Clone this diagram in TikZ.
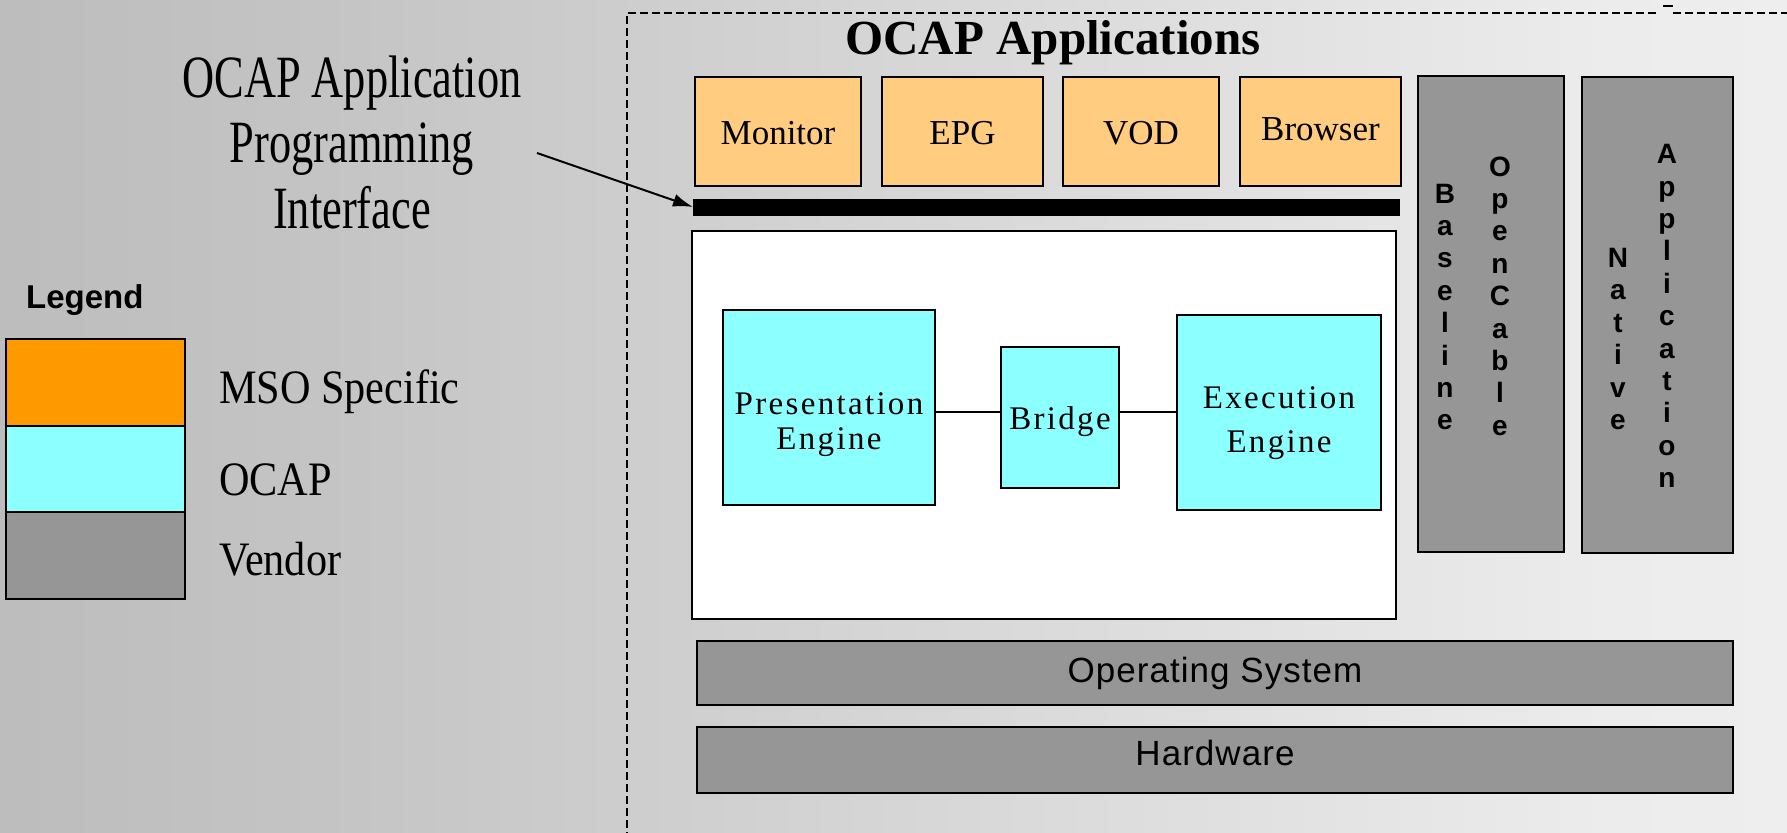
\documentclass[tikz,border=0pt]{standalone}
\usepackage{fontspec}
\setmainfont{Liberation Serif}
\setsansfont{Liberation Sans}
\newfontfamily\annofont[FakeStretch=0.74]{Liberation Serif}
\newfontfamily\legfont[FakeStretch=0.88]{Liberation Serif}
\newfontfamily\engfont[LetterSpace=7]{Liberation Serif}
\newfontfamily\layfont[LetterSpace=3]{Liberation Sans}
\usetikzlibrary{arrows.meta}
\definecolor{bgA}{RGB}{168,168,168}
\definecolor{bgB}{RGB}{196,196,196}
\definecolor{bgC}{RGB}{236,236,236}
\definecolor{bgD}{RGB}{248,248,248}
\definecolor{msolight}{RGB}{255,204,128}
\definecolor{msoorange}{RGB}{255,153,0}
\definecolor{ocapcyan}{RGB}{140,255,255}
\definecolor{vendorgray}{RGB}{150,150,150}
\pgfdeclarehorizontalshading{bgshade}{100bp}{color(0bp)=(bgA); color(34bp)=(bgB); color(70bp)=(bgC); color(100bp)=(bgD)}
\newcommand{\lowered}[2]{\raisebox{-#1}[\height][\depth]{\begin{tabular}{@{}c@{}}#2\end{tabular}}}
\begin{document}
\begin{tikzpicture}[x=1pt,y=-1pt,
  box/.style={draw=black,line width=2.5pt,inner sep=0pt,outer sep=0pt,anchor=center},
  appbox/.style={box,fill=msolight,font=\fontsize{35}{40}\selectfont},
  ocapbox/.style={box,fill=ocapcyan,align=center,font=\engfont\fontsize{33}{35}\selectfont},
  vendbox/.style={box,fill=vendorgray},
  layer/.style={vendbox,font=\layfont\fontsize{35}{40}\selectfont},
  vtext/.style={align=center,inner sep=0pt,font=\sffamily\bfseries\fontsize{28}{32.4}\selectfont},
  legtext/.style={anchor=base west,inner sep=0pt,font=\legfont\fontsize{48}{52}\selectfont},
  bordline/.style={line width=1.6pt,dash pattern=on 8pt off 4pt}]
\useasboundingbox (0,0) rectangle (1787,832);
\fill[shading=bgshade] (0,0) rectangle (1787,832);

% dashed frame
\coordinate (fA) at (627,840);
\coordinate (fB) at (627,13);
\coordinate (fC) at (1656,13);
\coordinate (fD) at (1673,13);
\coordinate (fE) at (1790,13);
\coordinate (fF) at (1663,6);
\coordinate (fG) at (1673,6);
\draw[bordline] (fA) -- (fB) -- (fC);
\draw[bordline] (fD) -- (fE);
\draw[line width=1.6pt] (fF) -- (fG);

% title
\node[anchor=base,inner sep=0pt,font=\bfseries\fontsize{49}{54}\selectfont] (title) at (1053,55) {OCAP Applications};

% application boxes
\node[appbox,minimum width=166pt,minimum height=109pt] (mon) at (778,131.5) {\lowered{5pt}{Monitor}};
\node[appbox,minimum width=161pt,minimum height=109pt] (epg) at (962.5,131.5) {\lowered{5pt}{EPG}};
\node[appbox,minimum width=156pt,minimum height=109pt] (vod) at (1141,131.5) {\lowered{5pt}{VOD}};
\node[appbox,minimum width=161pt,minimum height=109pt] (brw) at (1320.5,131.5) {\lowered{1pt}{Browser}};

% API bar
\node[box,fill=black,line width=0pt,minimum width=706pt,minimum height=16pt] (api) at (1046,207) {};

% middleware box
\node[box,fill=white,minimum width=704pt,minimum height=388pt] (mw) at (1044,425) {};
\node[ocapbox,minimum width=212pt,minimum height=195pt] (pres) at (829,407.5) {\lowered{17pt}{Presentation\\Engine}};
\node[ocapbox,minimum width=118pt,minimum height=141pt] (bridge) at (1060,417.5) {\lowered{5pt}{Bridge}};
\node[ocapbox,minimum width=204pt,minimum height=195pt,font=\engfont\fontsize{33}{44}\selectfont] (exec) at (1279,412.5) {\lowered{9pt}{Execution\\Engine}};
\draw[line width=2.5pt] (pres.east |- 0,412) -- (bridge.west |- 0,412);
\draw[line width=2.5pt] (bridge.east |- 0,412) -- (exec.west |- 0,412);

% vendor columns
\node[vendbox,minimum width=146pt,minimum height=476pt] (boc) at (1491,314) {};
\node[vtext] (baseline) at (1445,307) {B\\a\\s\\e\\l\\i\\n\\e};
\node[vtext] (opencable) at (1500,296) {O\\p\\e\\n\\C\\a\\b\\l\\e};
\node[vendbox,minimum width=151pt,minimum height=476pt] (nat) at (1657.5,315) {};
\node[vtext] (native) at (1618,339) {N\\a\\t\\i\\v\\e};
\node[vtext] (application) at (1667,316) {A\\p\\p\\l\\i\\c\\a\\t\\i\\o\\n};

% layers
\node[layer,minimum width=1036pt,minimum height=64pt] (os) at (1215,673) {Operating System};
\node[layer,minimum width=1036pt,minimum height=66pt] (hw) at (1215,760) {\raisebox{7pt}[\height][\depth]{Hardware}};

% annotation
\node[align=center,inner sep=0pt,font=\annofont\fontsize{60}{65.5}\selectfont] (anno) at (352,142) {OCAP Application\\Programming\\Interface};
\coordinate (arrs) at (537,153);
\draw[line width=2pt,-{Latex[length=20pt,width=13pt]}] (arrs) -- (api.west);

% legend
\node[anchor=base west,inner sep=0pt,font=\sffamily\bfseries\fontsize{33}{36}\selectfont] (legtitle) at (26,308) {Legend};
\node[box,fill=msoorange,minimum width=179pt,minimum height=87pt] (lmso) at (95.5,382.5) {};
\node[box,fill=ocapcyan,minimum width=179pt,minimum height=86pt] (locap) at (95.5,469) {};
\node[box,fill=vendorgray,minimum width=179pt,minimum height=87pt] (lvend) at (95.5,555.5) {};
\node[legtext] (tmso) at (219,403) {MSO Specific};
\node[legtext] (tocap) at (219,495) {OCAP};
\node[legtext] (tvend) at (219,575) {Vendor};
\end{tikzpicture}
\end{document}
